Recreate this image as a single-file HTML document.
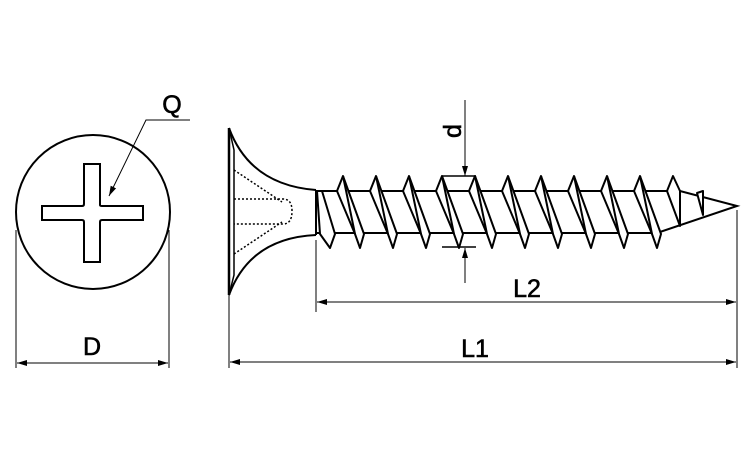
<!DOCTYPE html>
<html><head><style>html,body{margin:0;padding:0;background:#fff;}svg{display:block}</style></head>
<body>
<svg width="750" height="450" viewBox="0 0 750 450" xmlns="http://www.w3.org/2000/svg">
<defs>
<marker id="a" viewBox="0 0 10 6" refX="10" refY="3" markerWidth="10" markerHeight="6" orient="auto-start-reverse" markerUnits="userSpaceOnUse"><path d="M0,0L10,3L0,6z" fill="#000"/></marker>
</defs>
<g fill="none" stroke="#000">
<circle cx="93" cy="212" r="77" stroke-width="2"/>
<path d="M84,164H100V205Q100,206 102,206H143V220H102Q100,220 100,222V262H84V222Q84,220 82,220H42V206H82Q84,206 84,204Z" stroke-width="2"/>
<path d="M190,120H146L109,196" stroke-width="1" marker-end="url(#a)"/>
<line x1="16" y1="230" x2="16" y2="368" stroke-width="1"/>
<line x1="169" y1="230" x2="169" y2="368" stroke-width="1"/>
<line x1="17" y1="363" x2="168" y2="363" stroke-width="1" marker-start="url(#a)" marker-end="url(#a)"/>
<line x1="229" y1="128" x2="229" y2="295" stroke-width="2.5"/>
<path d="M229,128L234,150V275L229,295" stroke-width="1.5"/>
<path d="M229,128Q250,185 316,190" stroke-width="2"/>
<path d="M229,295Q250,238 316,235" stroke-width="2"/>
<g stroke-dasharray="2,2" stroke-width="1.5">
<path d="M234,170L282,202"/><path d="M234,254L282,222"/>
<path d="M234,199H283Q292,199 292,211Q292,224 283,224H234"/>
</g>
<line x1="316" y1="190" x2="316" y2="235" stroke-width="2"/>
<path d="M316,191H680L737,206L657,233H316" stroke-width="2"/>
</g>
<g fill="#fff" stroke="#000" stroke-width="2" stroke-linejoin="round">
<path d="M317,191L322,191L335,234L330,248L320,234Z"/>
<g id="t">
<path d="M337,191L343,176L364,234L360,248L355,234Z"/>
<path d="M343,176L355,234" fill="none"/>
</g>
<use href="#t" x="33"/><use href="#t" x="66"/><use href="#t" x="99"/><use href="#t" x="132"/>
<use href="#t" x="165"/><use href="#t" x="198"/><use href="#t" x="231"/><use href="#t" x="264"/><use href="#t" x="297"/>
<path d="M667,191L673,176L680,191L680,226Z"/>
<path d="M697,193L703,191L703,215Z"/>
</g>
<g fill="none" stroke="#000" stroke-width="1">
<path d="M442,176H476M442,247H476" stroke-width="1.5"/>
<line x1="465" y1="100" x2="465" y2="176" marker-end="url(#a)"/>
<line x1="465" y1="283" x2="465" y2="248" marker-end="url(#a)"/>
<line x1="229" y1="295" x2="229" y2="368"/>
<line x1="316" y1="240" x2="316" y2="312"/>
<line x1="737" y1="210" x2="737" y2="368"/>
<line x1="317" y1="302" x2="736" y2="302" marker-start="url(#a)" marker-end="url(#a)"/>
<line x1="230" y1="362" x2="736" y2="362" marker-start="url(#a)" marker-end="url(#a)"/>
</g>
<g font-family="Liberation Sans, sans-serif" font-size="25" fill="#000" stroke="#000" stroke-width="0.6" text-anchor="middle">
<text x="172" y="113">Q</text>
<text x="92" y="355">D</text>
<text x="527" y="297">L2</text>
<text x="475" y="357">L1</text>
<text x="0" y="0" transform="translate(461,131) rotate(-90)">d</text>
</g>
</svg>
</body></html>
